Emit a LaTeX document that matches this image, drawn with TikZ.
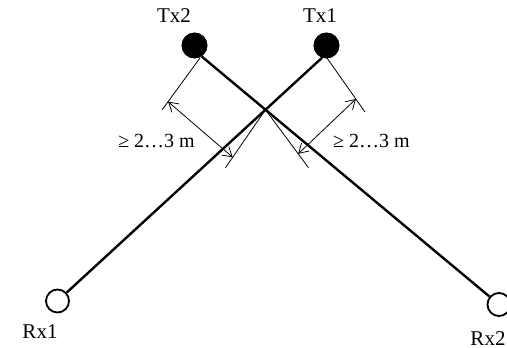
\documentclass[tikz,border=0pt]{standalone}
\usepackage{fontspec}
\setmainfont{Liberation Serif}
\usetikzlibrary{arrows.meta,calc}
\begin{document}
\begin{tikzpicture}[x=1pt,y=-1pt,
  thickline/.style={line width=2.4pt},
  thinline/.style={line width=0.8pt},
  txnode/.style={circle,fill=black,draw=black,line width=1pt,minimum size=25pt,inner sep=0pt},
  rxnode/.style={circle,fill=white,draw=black,line width=1.8pt,minimum size=23pt,inner sep=0pt},
  lbl/.style={font=\fontsize{21}{24}\selectfont,inner sep=0pt},
  dimlbl/.style={font=\fontsize{20}{24}\selectfont,inner sep=0pt},
  dimarrow/.style={thinline,{Straight Barb[length=9pt,width=11pt]}-{Straight Barb[length=9pt,width=11pt]}}
]
\useasboundingbox (0,0) rectangle (507,348);
\node[txnode] (tx2) at (194.5,45.5) {};
\node[txnode] (tx1) at (326.5,45.5) {};
\node[rxnode] (rx1) at (57.5,301) {};
\node[rxnode] (rx2) at (499,304.5) {};
\draw[thickline] (tx1.-110) -- (rx1);
\draw[thickline] (tx2.-57) -- (rx2);
\coordinate (X) at (intersection of tx1.-110--rx1 and tx2.-57--rx2);
% left dimension
\coordinate (la1) at ($(tx2)+(5.5,12.5)$);
\coordinate (la2) at ($(tx2)+(-32.5,64.5)$);
\coordinate (lb1) at (X);
\coordinate (lb2) at ($(X)+(-40,58)$);
\draw[thinline] (la1) -- (la2);
\draw[thinline] (lb1) -- (lb2);
\coordinate (lp) at ($(la1)!0.84!(la2)$);
\coordinate (lq) at ($(lb1)!0.82!(lb2)$);
\draw[dimarrow] (lp) -- (lq);
% right dimension
\coordinate (ra1) at ($(tx1)+(0.5,12.5)$);
\coordinate (ra2) at ($(tx1)+(38.5,66.5)$);
\coordinate (rb1) at (X);
\coordinate (rb2) at ($(X)+(43,58)$);
\draw[thinline] (ra1) -- (ra2);
\draw[thinline] (rb1) -- (rb2);
\coordinate (rp) at ($(ra1)!0.76!(ra2)$);
\coordinate (rq) at ($(rb1)!0.76!(rb2)$);
\draw[dimarrow] (rp) -- (rq);
% labels
\node[lbl,anchor=base] (ltx2) at (174,23) {Tx2};
\node[lbl,anchor=base] (ltx1) at (320,23) {Tx1};
\node[lbl,anchor=base] (lrx1) at (40,338) {Rx1};
\node[lbl,anchor=base] (lrx2) at (488,345) {Rx2};
\node[dimlbl,anchor=base east] (ldim) at (195,147) {≥ 2…3 m};
\node[dimlbl,anchor=base west] (rdim) at (333,147) {≥ 2…3 m};
\end{tikzpicture}
\end{document}
